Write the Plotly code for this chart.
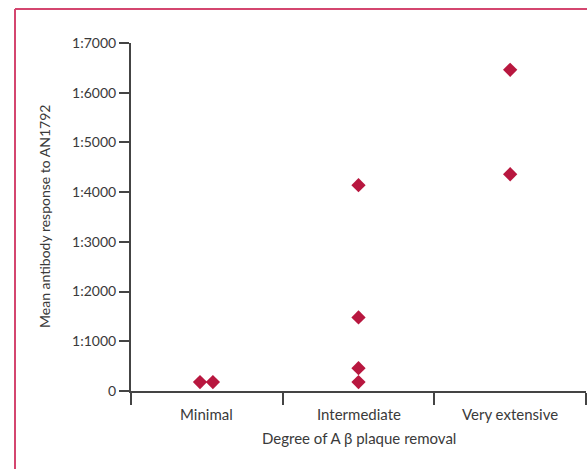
import plotly.graph_objects as go

# ---- data ----
categories = ["Minimal", "Intermediate", "Very extensive"]
point_category = [0, 0, 1, 1, 1, 1, 2, 2]
point_jitter = [-0.045, 0.04, 0, 0, 0, 0, 0, 0]
point_values = [180, 180, 4140, 1480, 460, 180, 6460, 4360]
y_tickvals = [0, 1000, 2000, 3000, 4000, 5000, 6000, 7000]
y_ticktext = ["0", "1:1000", "1:2000", "1:3000", "1:4000", "1:5000", "1:6000", "1:7000"]

W, H = 587, 469
L, R, T, B = 131, 1, 43, 78
pw, ph = W - L - R, H - T - B

FONT = "Lato, 'Open Sans', sans-serif"
TXT = "#3a3a3a"
AX = "#444444"
RED = "#b8173f"
BORDER = "#d4466f"

xs = [c + j for c, j in zip(point_category, point_jitter)]

fig = go.Figure()
fig.add_trace(go.Scatter(
    x=xs, y=point_values, mode="markers",
    marker=dict(symbol="diamond", size=11, color=RED, line=dict(width=0)),
    cliponaxis=False, showlegend=False, hoverinfo="skip",
))

def px_x(p):
    return (p - L) / pw

def px_y(p):
    return (H - B - p) / ph

annotations = [
    dict(x=i, y=0, xref="x", yref="paper", text=c, showarrow=False,
         yanchor="top", xanchor="center", yshift=-12,
         font=dict(family=FONT, size=15, color=TXT))
    for i, c in enumerate(categories)
]
annotations.append(dict(x=0.5, y=px_y(438), xref="paper", yref="paper",
                        xanchor="center", yanchor="middle",
                        text="Degree of A β plaque removal", showarrow=False,
                        font=dict(family=FONT, size=15, color=TXT)))
annotations.append(dict(x=px_x(44), y=0.5, xref="paper", yref="paper",
                        xanchor="center", yanchor="middle",
                        text="Mean antibody response to AN1792", showarrow=False,
                        textangle=-90, font=dict(family=FONT, size=14, color=TXT)))

fig.update_layout(
    width=W, height=H,
    margin=dict(l=L, r=R, t=T, b=B),
    paper_bgcolor="white", plot_bgcolor="white",
    xaxis=dict(range=[-0.5, 2.5], tickvals=[-0.5, 0.5, 1.5, 2.5],
               showticklabels=False, ticks="outside", ticklen=12, tickwidth=2,
               tickcolor=AX, showline=True, linecolor=AX, linewidth=2,
               showgrid=False, zeroline=False, fixedrange=True),
    yaxis=dict(range=[0, 7000], tickvals=y_tickvals, ticktext=y_ticktext,
               ticks="outside", ticklen=10, tickwidth=2, tickcolor=AX,
               showline=True, linecolor=AX, linewidth=2, showgrid=False,
               zeroline=False, tickfont=dict(family=FONT, size=14, color=TXT),
               fixedrange=True),
    annotations=annotations,
    shapes=[
        dict(type="line", xref="paper", yref="paper", x0=px_x(15), x1=px_x(W + 5),
             y0=px_y(9), y1=px_y(9), line=dict(color=BORDER, width=2)),
        dict(type="line", xref="paper", yref="paper", x0=px_x(15), x1=px_x(15),
             y0=px_y(9), y1=px_y(H + 5), line=dict(color=BORDER, width=2)),
    ],
)

fig.write_html("out.html", config={"displayModeBar": False},
               post_script="document.body.style.margin='0';")
